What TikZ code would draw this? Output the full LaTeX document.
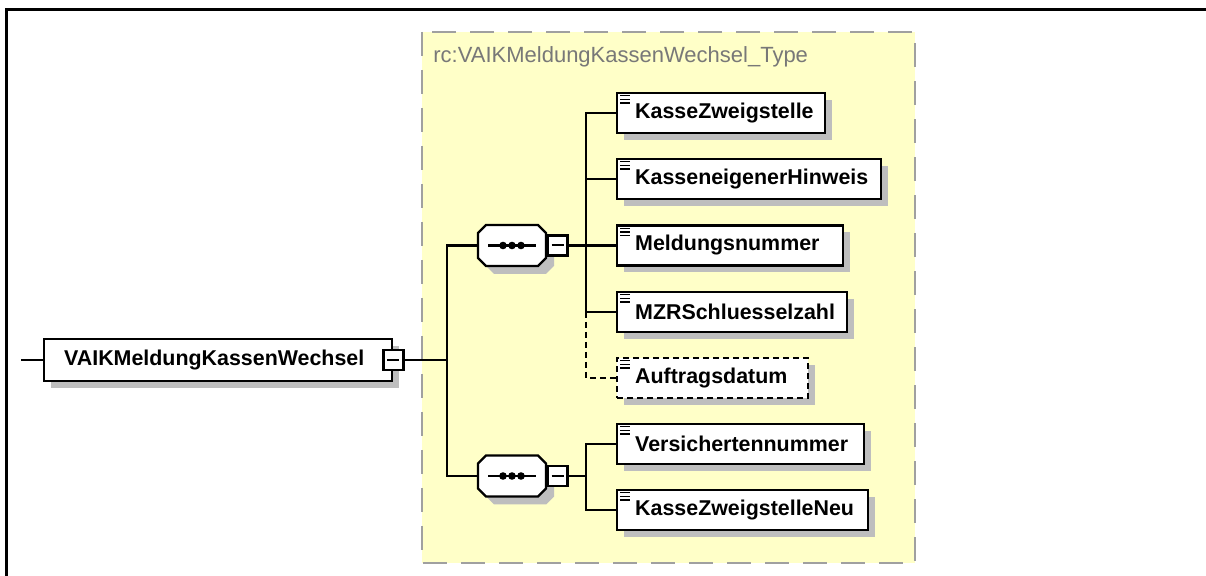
\documentclass[tikz,border=0pt]{standalone}
\usepackage{fontspec}
\setmainfont{Liberation Sans}
\usetikzlibrary{shadows}
\definecolor{bgyellow}{RGB}{255,255,200}
\definecolor{boxgray}{RGB}{160,160,160}
\definecolor{titlegray}{RGB}{120,120,120}
\definecolor{shadowgray}{RGB}{190,190,190}
\tikzset{
  elem/.style={draw, line width=1.2pt, fill=white, anchor=west, minimum height=20pt,
    inner xsep=9pt, inner ysep=0pt, font=\bfseries\fontsize{10.7}{12}\selectfont,
    drop shadow={shadow xshift=3.5pt, shadow yshift=-3.5pt, fill=shadowgray, opacity=1}},
  optelem/.style={dash pattern=on 3pt off 2pt},
  minusbox/.style={draw, line width=1.1pt, fill=white, minimum size=10pt, inner sep=0pt,
    path picture={\draw[line width=1pt] ([xshift=-3pt]path picture bounding box.center) -- ([xshift=3pt]path picture bounding box.center);}},
  seqph/.style={minimum width=34pt, minimum height=20.5pt, inner sep=0pt},
  conn/.style={line width=1.1pt},
}
\newcommand\seqshape[2]{%
  \fill[shadowgray, xshift=4pt, yshift=-4pt] (#1-26,#2-20.5) -- (#1+26,#2-20.5) -- (#1+34,#2-12.5) -- (#1+34,#2+12.5) -- (#1+26,#2+20.5) -- (#1-26,#2+20.5) -- (#1-34,#2+12.5) -- (#1-34,#2-12.5) -- cycle;
  \draw[line width=1.2pt, fill=white] (#1-26,#2-20.5) -- (#1+26,#2-20.5) -- (#1+34,#2-12.5) -- (#1+34,#2+12.5) -- (#1+26,#2+20.5) -- (#1-26,#2+20.5) -- (#1-34,#2+12.5) -- (#1-34,#2-12.5) -- cycle;
  \draw[line width=1.1pt] (#1-24,#2) -- (#1+24,#2);
  \foreach \dx in {-9,0,9} \fill (#1,#2) ++(\dx,0) circle (1.9pt);
}
\newcommand\elem[5][]{%
  \node[elem,#1] (#2) at (616,#3) {\makebox[#4][l]{#5}};
  \foreach \dy in {2,3.8,5.6} \draw[line width=0.7pt] ([shift={(2pt,-\dy pt)}]#2.north west) -- ++(5pt,0);
}
\begin{document}
\begin{tikzpicture}[x=0.5pt, y=-0.5pt]
\useasboundingbox (0,0) rectangle (1206,576);
\fill[white] (0,0) rectangle (1206,576);
% outer frame
\draw[line width=1.5pt] (6,576) -- (6,10) -- (1206,10);
% type box
\draw[draw=boxgray, line width=1pt, dash pattern=on 12pt off 7pt, fill=bgyellow] (422,32) rectangle (915,563);
\node[anchor=west, inner sep=0pt, text=titlegray, font=\fontsize{11}{12}\selectfont] (title) at (433,57) {rc:VAIKMeldungKassenWechsel\_Type};
% main element
\node[elem, minimum height=21pt, inner xsep=10pt] (main) at (43,360) {\makebox[154pt][l]{VAIKMeldungKassenWechsel}};
\node[minusbox] (mainm) at (main.east) {};
\coordinate (lin) at (21,360);
\draw[conn] (lin) -- (main.west);
\coordinate (mt) at (447,360);
% sequences
\seqshape{512}{245.5}
\node[seqph] (s1) at (512,245.5) {};
\node[minusbox, anchor=west] (s1m) at (s1.east) {};
\seqshape{512}{476}
\node[seqph] (s2) at (512,476) {};
\node[minusbox, anchor=west] (s2m) at (s2.east) {};
\draw[conn] (mainm.east) -- (mt);
\draw[conn] (mt) |- (s1.west);
\draw[conn] (mt) |- (s2.west);
% children
\elem{c1}{113}{86pt}{KasseZweigstelle}
\elem{c2}{179}{114pt}{KasseneigenerHinweis}
\elem{c3}{245.5}{95pt}{Meldungsnummer}
\elem{c4}{312}{97pt}{MZRSchluesselzahl}
\elem[optelem]{c5}{378}{77.5pt}{Auftragsdatum}
\elem{c6}{444}{105.5pt}{Versichertennummer}
\elem{c7}{510}{107.5pt}{KasseZweigstelleNeu}
\coordinate (t1) at (586,245.5);
\coordinate (t2) at (586,476);
\draw[conn] (s1m.east) -- (t1);
\foreach \c in {c1,c2,c3,c4} \draw[conn] (t1) |- (\c.west);
\draw[conn, optelem] (t1 |- c4.west) |- (c5.west);
\draw[conn] (s2m.east) -- (t2);
\draw[conn] (t2) |- (c6.west);
\draw[conn] (t2) |- (c7.west);
\end{tikzpicture}
\end{document}
